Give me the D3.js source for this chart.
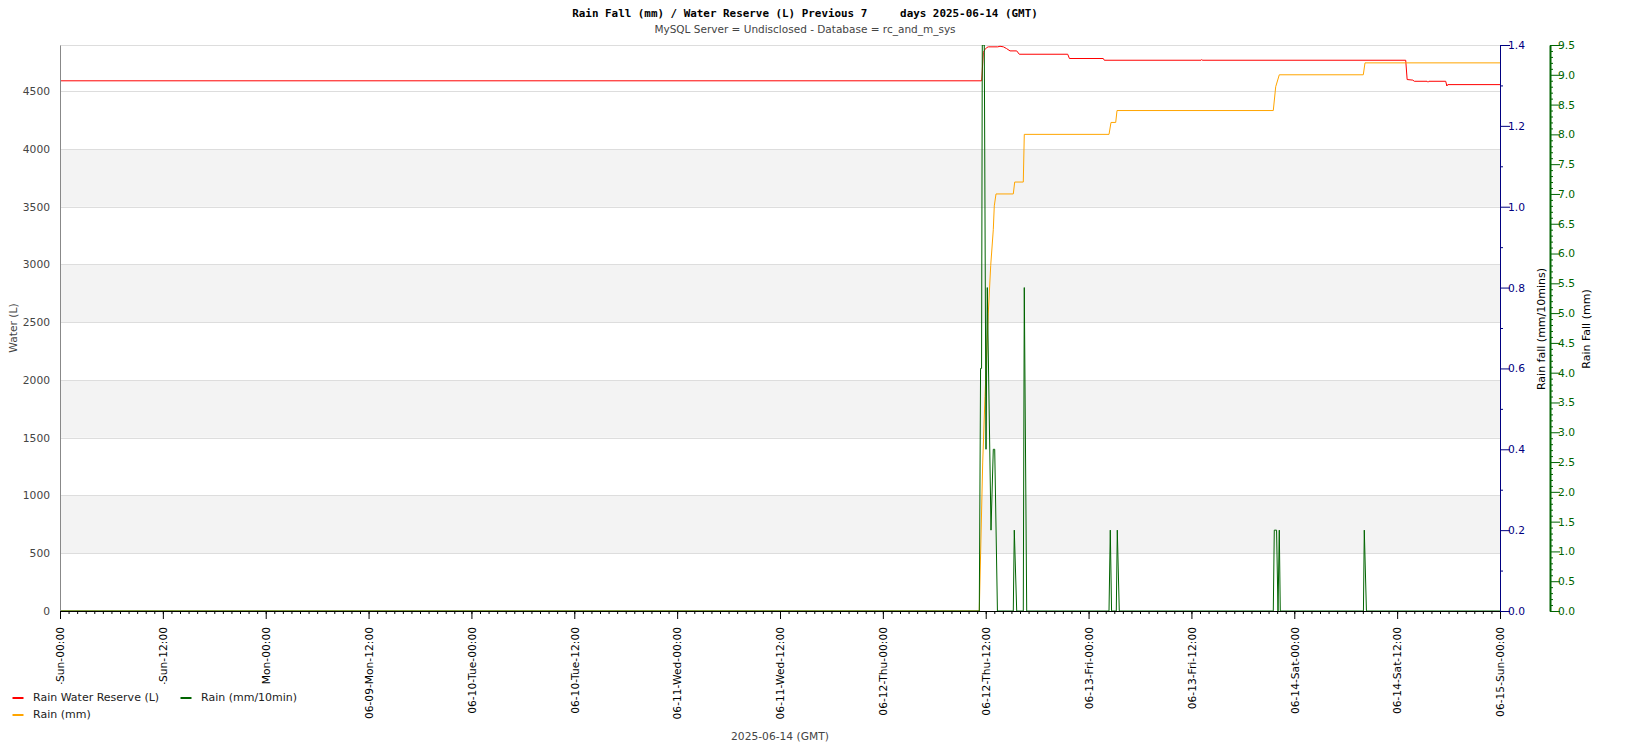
<!DOCTYPE html>
<html><head><meta charset="utf-8">
<script src="https://cdn.jsdelivr.net/npm/d3@7"></script>
<style>body{margin:0;background:#fff}svg{display:block;font-family:"DejaVu Sans",sans-serif}</style>
</head><body><svg id="c" width="1650" height="750"></svg>
<script>
// ---------- data ----------
const reserveTimes = ["2025-06-08 00:00","2025-06-12 11:32","2025-06-12 11:43","2025-06-12 11:55","2025-06-12 12:07","2025-06-12 12:19","2025-06-12 13:24","2025-06-12 13:40","2025-06-12 14:04","2025-06-12 14:26","2025-06-12 14:50","2025-06-12 15:37","2025-06-12 15:55","2025-06-12 21:34","2025-06-12 21:46","2025-06-13 01:43","2025-06-13 01:50","2025-06-13 13:08","2025-06-13 13:12","2025-06-13 13:16","2025-06-14 13:00","2025-06-14 13:10","2025-06-14 13:50","2025-06-14 14:00","2025-06-14 15:30","2025-06-14 15:36","2025-06-14 15:42","2025-06-14 17:40","2025-06-14 17:48","2025-06-14 17:54","2025-06-15 00:00"];
const reserveLitres = [4590,4590,4835,4861,4878,4884,4884,4889,4884,4869,4849,4849,4820,4820,4783,4783,4768,4768,4774,4768,4768,4601,4596,4586,4586,4578,4586,4586,4545,4557,4557];

const rainTotalTimes = ["2025-06-08 00:00","2025-06-12 11:15","2025-06-12 11:39","2025-06-12 11:55","2025-06-12 12:18","2025-06-12 12:35","2025-06-12 12:53","2025-06-12 13:00","2025-06-12 13:12","2025-06-12 15:13","2025-06-12 15:23","2025-06-12 16:23","2025-06-12 16:30","2025-06-13 02:23","2025-06-13 02:37","2025-06-13 03:10","2025-06-13 03:19","2025-06-13 21:33","2025-06-13 21:50","2025-06-13 22:15","2025-06-14 08:03","2025-06-14 08:15","2025-06-15 00:00"];
const rainTotalMm = [0,0,2.5,3.6,5.0,5.8,6.4,6.8,7.0,7.0,7.2,7.2,8.0,8.0,8.2,8.2,8.4,8.4,8.8,9.0,9.0,9.2,9.2];

const rainRateTimes = ["2025-06-08 00:00","2025-06-12 11:15","2025-06-12 11:24","2025-06-12 11:31","2025-06-12 11:36","2025-06-12 11:50","2025-06-12 12:02","2025-06-12 12:11","2025-06-12 12:37","2025-06-12 12:53","2025-06-12 13:03","2025-06-12 13:22","2025-06-12 15:13","2025-06-12 15:20","2025-06-12 15:37","2025-06-12 16:23","2025-06-12 16:30","2025-06-12 16:47","2025-06-13 02:23","2025-06-13 02:32","2025-06-13 02:41","2025-06-13 03:14","2025-06-13 03:21","2025-06-13 03:35","2025-06-13 21:33","2025-06-13 21:40","2025-06-13 21:56","2025-06-13 22:06","2025-06-13 22:15","2025-06-13 22:22","2025-06-14 08:04","2025-06-14 08:10","2025-06-14 08:25","2025-06-15 00:00"];
const rainRateMm = [0,0,0.6,0.6,1.4,1.4,0.4,0.8,0.2,0.4,0.4,0,0,0.2,0,0,0.8,0,0,0.2,0,0,0.2,0,0,0.2,0.2,0,0.2,0,0,0.2,0,0];

const xTickLabels = ["06-08-Sun-00:00","06-08-Sun-12:00","06-09-Mon-00:00","06-09-Mon-12:00","06-10-Tue-00:00","06-10-Tue-12:00","06-11-Wed-00:00","06-11-Wed-12:00","06-12-Thu-00:00","06-12-Thu-12:00","06-13-Fri-00:00","06-13-Fri-12:00","06-14-Sat-00:00","06-14-Sat-12:00","06-15-Sun-00:00"];
const xTickTimes = ["2025-06-08 00:00","2025-06-08 12:00","2025-06-09 00:00","2025-06-09 12:00","2025-06-10 00:00","2025-06-10 12:00","2025-06-11 00:00","2025-06-11 12:00","2025-06-12 00:00","2025-06-12 12:00","2025-06-13 00:00","2025-06-13 12:00","2025-06-14 00:00","2025-06-14 12:00","2025-06-15 00:00"];
const waterTicks = [0,500,1000,1500,2000,2500,3000,3500,4000,4500];
const rateTicks = [0,0.2,0.4,0.6,0.8,1.0,1.2,1.4];
const totalTicks = [0,0.5,1,1.5,2,2.5,3,3.5,4,4.5,5,5.5,6,6.5,7,7.5,8,8.5,9,9.5];

// ---------- setup ----------
const parse = d3.utcParse("%Y-%m-%d %H:%M");
const L = 60, R = 1500, T = 45, B = 611;
const svg = d3.select("#c");
const x = d3.scaleUtc().domain([parse(xTickTimes[0]), parse(xTickTimes[xTickTimes.length-1])]).range([L, R]);
const yW = d3.scaleLinear().domain([0, 4900]).range([B, T]);
const yRate = d3.scaleLinear().domain([0, 1.4]).range([B, T]);
const yTot = d3.scaleLinear().domain([0, 9.5]).range([B, T]);
const BLUE = "#000080", GREEN = "#006400", FS = 10.7;

// bands
for (let i = 1; i < waterTicks.length - 1; i += 2) {
  svg.append("rect").attr("x", L).attr("width", R - L)
    .attr("y", yW(waterTicks[i + 1])).attr("height", yW(waterTicks[i]) - yW(waterTicks[i + 1]))
    .attr("fill", "#f3f3f3");
}
// grid
svg.append("g").selectAll("line").data(waterTicks.slice(1).concat([4900])).join("line")
  .attr("x1", L).attr("x2", R).attr("y1", d => Math.round(yW(d)) + 0.5).attr("y2", d => Math.round(yW(d)) + 0.5)
  .attr("stroke", "#dddddd");

// lines
svg.append("clipPath").attr("id", "pc").append("rect").attr("x", L).attr("y", T).attr("width", R - L).attr("height", B - T);
function drawLine(times, vals, y, color) {
  const pts = times.map((t, i) => [x(parse(t)), y(vals[i])]);
  svg.append("path").attr("d", d3.line()(pts)).attr("fill", "none").attr("stroke", color)
    .attr("stroke-width", 1).attr("clip-path", "url(#pc)");
}
drawLine(reserveTimes, reserveLitres, yW, "#ff0000");
drawLine(rainTotalTimes, rainTotalMm, yTot, "#ffa500");
drawLine(rainRateTimes, rainRateMm, yRate, GREEN);

// left axis
const gL = svg.append("g").attr("transform", `translate(${L},0)`)
  .call(d3.axisLeft(yW).tickValues(waterTicks).tickSize(0).tickPadding(10).tickSizeOuter(0).tickFormat(d3.format("d")));
gL.select(".domain").attr("stroke", "#888");
gL.selectAll("text").attr("fill", "#444").style("font-size", FS + "px").style("font-family", "DejaVu Sans");

// x axis
const xTimes = xTickTimes.map(parse);
const gXm = svg.append("g").attr("transform", `translate(0,${B})`)
  .call(d3.axisBottom(x).ticks(d3.utcHour.every(1)).tickSize(3).tickFormat(""));
gXm.select(".domain").remove();
const gX = svg.append("g").attr("transform", `translate(0,${B})`)
  .call(d3.axisBottom(x).tickValues(xTimes).tickFormat((d, i) => xTickLabels[i]).tickSize(8).tickSizeOuter(0));
gX.selectAll("text").attr("transform", "rotate(-90)").attr("text-anchor", "end")
  .attr("x", -16).attr("y", 0).attr("dy", "0.35em").attr("fill", "#000")
  .style("font-size", FS + "px").style("font-family", "DejaVu Sans");
gX.select(".domain").attr("stroke", "#000");

// blue axis (rate)
const gBm = svg.append("g").attr("transform", `translate(${R},0)`)
  .call(d3.axisRight(yRate).tickValues(rateTicks.slice(0, -1).map(v => v + 0.1)).tickSize(3).tickFormat(""));
gBm.select(".domain").remove();
gBm.selectAll("line").attr("stroke", BLUE);
const gB = svg.append("g").attr("transform", `translate(${R},0)`)
  .call(d3.axisRight(yRate).tickValues(rateTicks).tickSize(10).tickPadding(-2).tickSizeOuter(0).tickFormat(d3.format(".1f")));
gB.select(".domain").attr("stroke", BLUE);
gB.selectAll("line").attr("stroke", BLUE);
gB.selectAll("text").attr("fill", BLUE).style("font-size", FS + "px").style("font-family", "DejaVu Sans");

// green axis (total)
const G = 1550;
const minorTot = d3.range(0, 95).map(i => i / 10).filter(v => Math.abs(v * 2 - Math.round(v * 2)) > 1e-6);
const gGm = svg.append("g").attr("transform", `translate(${G},0)`)
  .call(d3.axisRight(yTot).tickValues(minorTot).tickSize(3).tickFormat(""));
gGm.select(".domain").remove();
gGm.selectAll("line").attr("stroke", GREEN);
const gG = svg.append("g").attr("transform", `translate(${G},0)`)
  .call(d3.axisRight(yTot).tickValues(totalTicks).tickSize(10).tickPadding(-2).tickSizeOuter(0).tickFormat(d3.format(".1f")));
gG.select(".domain").attr("stroke", GREEN).attr("stroke-width", 2);
gG.selectAll("line").attr("stroke", GREEN);
gG.selectAll("text").attr("fill", GREEN).style("font-size", FS + "px").style("font-family", "DejaVu Sans");

// axis titles
svg.append("text").attr("transform", `translate(17,${(T + B) / 2}) rotate(-90)`).attr("text-anchor", "middle")
  .attr("fill", "#444").style("font-size", FS + "px").text("Water (L)");
svg.append("text").attr("transform", `translate(1545,${(T + B) / 2 + 1}) rotate(-90)`).attr("text-anchor", "middle")
  .attr("fill", "#000").style("font-size", "11px").text("Rain fall (mm/10mins)");
svg.append("text").attr("transform", `translate(1590,${(T + B) / 2 + 1}) rotate(-90)`).attr("text-anchor", "middle")
  .attr("fill", "#000").style("font-size", "11px").text("Rain Fall (mm)");

// title
svg.append("text").attr("x", 805).attr("y", 17).attr("text-anchor", "middle").attr("xml:space", "preserve")
  .style("font-family", "'DejaVu Sans Mono',monospace").style("font-weight", "bold").style("font-size", "10.9px")
  .attr("fill", "#000").text("Rain Fall (mm) / Water Reserve (L) Previous 7     days 2025-06-14 (GMT)");
svg.append("text").attr("x", 805).attr("y", 33).attr("text-anchor", "middle")
  .style("font-size", "10.5px").attr("fill", "#444").text("MySQL Server = Undisclosed - Database = rc_and_m_sys");
svg.append("text").attr("x", 780).attr("y", 740).attr("text-anchor", "middle")
  .style("font-size", FS + "px").attr("fill", "#444").text("2025-06-14 (GMT)");

// legend
const lg = svg.append("g");
lg.append("rect").attr("x", 0).attr("y", 684).attr("width", 310).attr("height", 42).attr("fill", "#fff");
const legendItems = [
  {label: "Rain Water Reserve (L)", color: "#ff0000", lx: 12, ly: 697},
  {label: "Rain (mm/10min)", color: GREEN, lx: 180, ly: 697},
  {label: "Rain (mm)", color: "#ffa500", lx: 12, ly: 714}
];
legendItems.forEach(d => {
  lg.append("line").attr("x1", d.lx + 0.5).attr("x2", d.lx + 11.5).attr("y1", d.ly + 1).attr("y2", d.ly + 1)
    .attr("stroke", d.color).attr("stroke-width", 2);
  lg.append("text").attr("x", d.lx + 21).attr("y", d.ly).attr("dy", "0.35em")
    .style("font-size", "11px").attr("fill", "#222").text(d.label);
});
</script></body></html>
